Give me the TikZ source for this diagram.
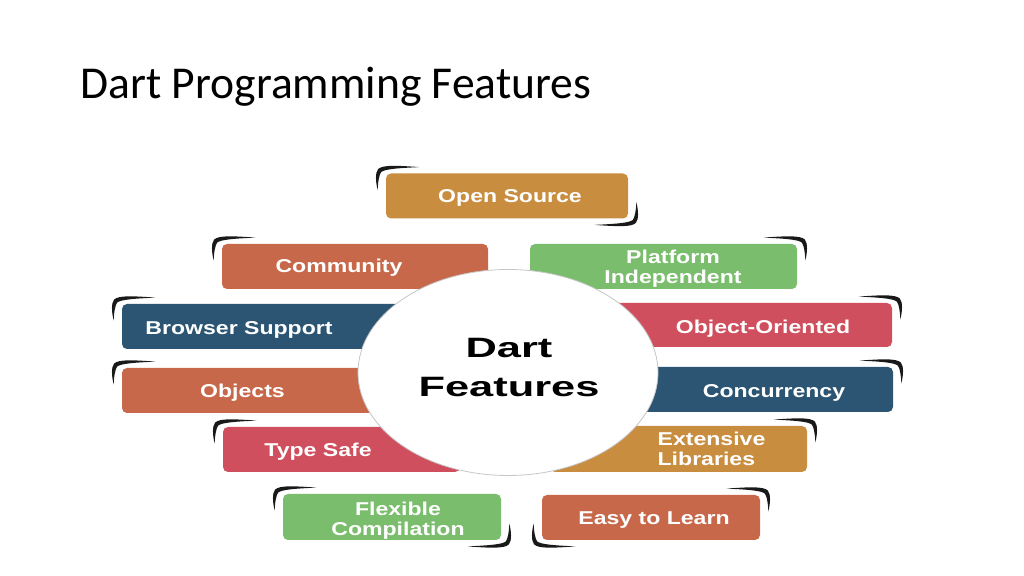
\documentclass[tikz,border=0pt]{standalone}
\usepackage{fontspec}
\setmainfont{Carlito}
\newfontfamily\boxfont[FakeStretch=1.24]{Liberation Sans}
\newfontfamily\corefont[FakeStretch=1.55]{Liberation Sans}
\usetikzlibrary{shapes.geometric,calc}
\definecolor{dgold}{HTML}{C98D40}
\definecolor{dorange}{HTML}{C8684A}
\definecolor{dgreen}{HTML}{7ABD6C}
\definecolor{dnavy}{HTML}{2B5572}
\definecolor{dred}{HTML}{D04F5E}
\tikzset{
	feat/.style={rounded corners=2.5pt, inner sep=0pt, minimum height=22.5pt},
	lbl/.style={text=white, align=center, inner sep=0pt, font=\boxfont\bfseries\fontsize{9.3}{10}\selectfont},
	onelbl/.style={lbl, text height=6.7pt, text depth=0pt},
	brack/.style={fill=black!90},
}
\newcommand{\brk}[4]{\fill[brack, shift={(#1.#2)}, xscale=#3, yscale=#4] (-34,6) .. controls (-12,7.5) and (3,8.5) .. (7.5,4) .. controls (10.5,0) and (10,-8) .. (8,-17) .. controls (7.5,-8) and (6.5,-2) .. (4.5,1) .. controls (1,4) and (-12,5) .. (-34,6) -- cycle;}
\begin{document}
\begin{tikzpicture}[x=0.5pt,y=-0.5pt]
	\useasboundingbox (0,0) rectangle (1024,576);
	\node[anchor=base west, inner sep=0pt, font=\fontsize{22.8}{27}\selectfont] (title) at (80,99) {Dart Programming Features};
	
	\node[feat, fill=dgold, minimum width=121pt] (open) at (507,196) {};
	\node[feat, fill=dorange, minimum width=133pt] (comm) at (355,266.5) {};
	\node[feat, fill=dgreen, minimum width=133.5pt] (plat) at (663.5,266.5) {};
	\node[feat, fill=dnavy, minimum width=164pt] (browser) at (286,326.5) {};
	\node[feat, fill=dred, minimum width=166pt, minimum height=22pt] (oo) at (726,325) {};
	\node[feat, fill=dorange, minimum width=164pt] (objects) at (286,390.5) {};
	\node[feat, fill=dnavy, minimum width=166.5pt] (conc) at (726.5,389.5) {};
	\node[feat, fill=dred, minimum width=118.5pt] (type) at (341.5,449.5) {};
	\node[feat, fill=dgold, minimum width=128.5pt, minimum height=23pt] (ext) at (678.5,449) {};
	\node[feat, fill=dgreen, minimum width=109pt, minimum height=23pt] (flex) at (392,517) {};
	\node[feat, fill=dorange, minimum width=109pt] (easy) at (651,517.5) {};
	
	\node[ellipse, draw=gray!45, line width=0.4pt, fill=white, inner sep=0pt, minimum width=150pt, minimum height=103pt] (core) at (508,372.5) {};
	\node[align=center, inner sep=0pt, font=\corefont\bfseries\fontsize{14}{19.5}\selectfont] (coretxt) at (509,368) {Dart\\Features};
	
	\node[onelbl] (openl) at (510,195.5) {Open Source};
	\node[onelbl] (comml) at (339,265.5) {Community};
	\node[lbl] (platl) at (673,269) {Platform\\Independent};
	\node[onelbl] (browserl) at (239,327.5) {Browser Support};
	\node[onelbl] (ool) at (763,327) {Object-Oriented};
	\node[onelbl] (objectsl) at (242.5,391) {Objects};
	\node[onelbl] (concl) at (774,391) {Concurrency};
	\node[onelbl] (typel) at (318,450) {Type Safe};
	\node[lbl, align=left] (extl) at (711.5,448.5) {Extensive\\Libraries};
	\node[lbl] (flexl) at (398,521) {Flexible\\Compilation};
	\node[onelbl] (easyl) at (654,518) {Easy to Learn};
	
	\brk{open}{north west}{-1}{-1}
	\brk{open}{south east}{1}{1}
	\brk{comm}{north west}{-1}{-1}
	\brk{plat}{north east}{1}{-1}
	\brk{browser}{north west}{-1}{-1}
	\brk{oo}{north east}{1}{-1}
	\brk{objects}{north west}{-1}{-1}
	\brk{conc}{north east}{1}{-1}
	\brk{type}{north west}{-1}{-1}
	\brk{ext}{north east}{1}{-1}
	\brk{flex}{north west}{-1}{-1}
	\brk{flex}{south east}{1}{1}
	\brk{easy}{south west}{-1}{1}
	\brk{easy}{north east}{1}{-1}
\end{tikzpicture}
\end{document}
